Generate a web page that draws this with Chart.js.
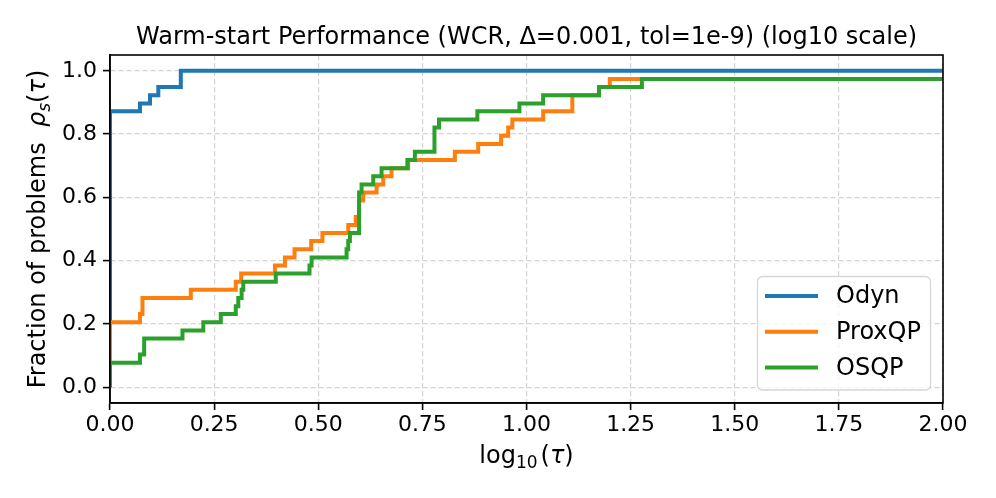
<!DOCTYPE html>
<html>
<head>
<meta charset="utf-8">
<script src="https://cdn.jsdelivr.net/npm/chart.js@4.4.1/dist/chart.umd.min.js"></script>
<style>
html,body{margin:0;padding:0;background:#fff;}
#wrap{width:996px;height:498px;position:relative;}
</style>
</head>
<body>
<div id="wrap"><canvas id="c" width="996" height="498"></canvas></div>
<script>
const chartTitle = "Warm-start Performance (WCR, \u0394=0.001, tol=1e-9) (log10 scale)";
const seriesNames = ["Odyn", "ProxQP", "OSQP"];
const seriesColors = ["#1f77b4", "#ff7f0e", "#2ca02c"];

const odynTau = [0, 0, 0.072, 0.096, 0.116, 0.170, 2.0];
const odynRho = [0, 0.872, 0.897, 0.923, 0.949, 1.0, 1.0];

const proxTau = [0, 0, 0.072, 0.078, 0.194, 0.302, 0.315, 0.396, 0.420, 0.443, 0.483, 0.510, 0.572, 0.590, 0.598, 0.608, 0.640, 0.656, 0.676, 0.716, 0.828, 0.884, 0.939, 0.956, 0.966, 1.040, 1.110, 1.174, 1.200, 2.0];
const proxRho = [0, 0.205, 0.231, 0.282, 0.308, 0.333, 0.359, 0.385, 0.410, 0.436, 0.462, 0.487, 0.513, 0.538, 0.590, 0.615, 0.641, 0.667, 0.692, 0.718, 0.744, 0.769, 0.795, 0.821, 0.846, 0.872, 0.923, 0.949, 0.974, 0.974];

const osqpTau = [0, 0, 0.072, 0.082, 0.174, 0.224, 0.266, 0.302, 0.308, 0.316, 0.320, 0.398, 0.479, 0.484, 0.568, 0.572, 0.576, 0.598, 0.604, 0.632, 0.652, 0.714, 0.732, 0.779, 0.790, 0.882, 0.983, 1.040, 1.174, 1.277, 2.0];
const osqpRho = [0, 0.077, 0.103, 0.154, 0.179, 0.205, 0.231, 0.256, 0.282, 0.308, 0.333, 0.359, 0.385, 0.410, 0.436, 0.462, 0.487, 0.615, 0.641, 0.667, 0.692, 0.718, 0.744, 0.821, 0.846, 0.872, 0.897, 0.923, 0.949, 0.974, 0.974];

const xTicks = [0, 0.25, 0.5, 0.75, 1.0, 1.25, 1.5, 1.75, 2.0];
const yTicks = [0, 0.2, 0.4, 0.6, 0.8, 1.0];

const FONT = "'DejaVu Sans', 'Liberation Sans', sans-serif";

function pts(t, r) { return t.map((v, i) => ({x: v, y: r[i]})); }
const allTau = [odynTau, proxTau, osqpTau];
const allRho = [odynRho, proxRho, osqpRho];

const datasets = seriesNames.map((n, i) => ({
  label: n,
  data: pts(allTau[i], allRho[i]),
  borderColor: seriesColors[i],
  backgroundColor: seriesColors[i],
  borderWidth: 4,
  pointRadius: 0,
  showLine: true,
  stepped: 'before',
  fill: false,
  order: 2 - i,
  borderCapStyle: 'butt',
  borderJoinStyle: 'miter'
}));

// draws a sequence of [text, fontSpec, dy] runs starting at x, returns end x
function runs(ctx, parts, x, y) {
  parts.forEach(p => {
    ctx.font = p[1];
    ctx.fillText(p[0], x, y + (p[2] || 0));
    x += ctx.measureText(p[0]).width + (p[3] || 0);
  });
  return x;
}
function runsWidth(ctx, parts) {
  let w = 0;
  parts.forEach(p => { ctx.font = p[1]; w += ctx.measureText(p[0]).width + (p[3] || 0); });
  return w;
}

const framePlugin = {
  id: 'frame',
  afterDraw(chart) {
    const {ctx, chartArea: a} = chart;
    const cx = (a.left + a.right) / 2, cy = (a.top + a.bottom) / 2;
    ctx.save();
    // spines
    ctx.strokeStyle = '#000';
    ctx.lineWidth = 1.6;
    ctx.strokeRect(a.left, a.top, a.right - a.left, a.bottom - a.top);
    ctx.fillStyle = '#000';
    ctx.textBaseline = 'alphabetic';
    // title
    ctx.font = "24px " + FONT;
    ctx.textAlign = 'center';
    ctx.fillText(chartTitle, cx, 43.5);
    ctx.textAlign = 'left';
    // x axis label: log_10(tau)
    const R = "24px " + FONT, I = "italic 24px " + FONT, S = "17px " + FONT, SI = "italic 17px " + FONT;
    const xl = [["log", R, 0], ["10", S, 5, 3], ["(", R, 0], ["\u03c4", I, 0], [")", R, 0]];
    runs(ctx, xl, cx - runsWidth(ctx, xl) / 2, 462.5);
    // y axis label
    const yl = [["Fraction of problems  ", R, 0], ["\u03c1", I, 0], ["s", SI, 5], ["(", R, 0], ["\u03c4", I, 0], [")", R, 0]];
    ctx.save();
    ctx.translate(45, cy);
    ctx.rotate(-Math.PI / 2);
    runs(ctx, yl, -runsWidth(ctx, yl) / 2, 0);
    ctx.restore();
    // legend
    const lx = 757.5, ly = 276.5, lw = 173, lh = 113.5, r = 5;
    ctx.beginPath();
    ctx.moveTo(lx + r, ly);
    ctx.arcTo(lx + lw, ly, lx + lw, ly + lh, r);
    ctx.arcTo(lx + lw, ly + lh, lx, ly + lh, r);
    ctx.arcTo(lx, ly + lh, lx, ly, r);
    ctx.arcTo(lx, ly, lx + lw, ly, r);
    ctx.closePath();
    ctx.fillStyle = 'rgba(255,255,255,0.8)';
    ctx.fill();
    ctx.strokeStyle = '#d6d6d6';
    ctx.lineWidth = 1.3;
    ctx.stroke();
    ctx.font = "24px " + FONT;
    ctx.textBaseline = 'middle';
    chart.data.datasets.forEach((ds, i) => {
      const y = 296 + i * 35.8;
      ctx.strokeStyle = ds.borderColor;
      ctx.lineWidth = 4;
      ctx.beginPath();
      ctx.moveTo(765, y);
      ctx.lineTo(818, y);
      ctx.stroke();
      ctx.fillStyle = '#000';
      ctx.fillText(ds.label, 836, y + 1);
    });
    ctx.restore();
  }
};

new Chart(document.getElementById('c'), {
  type: 'scatter',
  data: {datasets},
  plugins: [framePlugin],
  options: {
    responsive: false,
    animation: false,
    events: [],
    layout: {padding: {left: 0, right: 53, top: 55, bottom: 0}},
    plugins: {legend: {display: false}, tooltip: {enabled: false}, title: {display: false}},
    scales: {
      x: {
        type: 'linear', min: 0, max: 2,
        afterFit(s) { s.height = 95; },
        afterBuildTicks(s) { s.ticks = xTicks.map(v => ({value: v})); },
        ticks: {
          color: '#000', font: {family: FONT, size: 22}, padding: 2,
          maxRotation: 0, autoSkip: false,
          callback: v => Number(v).toFixed(2)
        },
        grid: {color: '#d4d4d4', lineWidth: 1.2, tickLength: 7, tickColor: '#000', tickWidth: 1.6, drawTicks: true},
        border: {display: true, color: '#000', width: 1.6, dash: [5, 3]},
        title: {display: false}
      },
      y: {
        type: 'linear', min: -0.05, max: 1.05,
        afterFit(s) { s.width = 110; },
        afterBuildTicks(s) { s.ticks = yTicks.map(v => ({value: v})); },
        ticks: {
          color: '#000', font: {family: FONT, size: 22}, padding: 6,
          autoSkip: false,
          callback: v => Number(v).toFixed(1)
        },
        grid: {color: '#d4d4d4', lineWidth: 1.2, tickLength: 7, tickColor: '#000', tickWidth: 1.6, drawTicks: true},
        border: {display: true, color: '#000', width: 1.6, dash: [5, 3]},
        title: {display: false}
      }
    }
  }
});
</script>
</body>
</html>
